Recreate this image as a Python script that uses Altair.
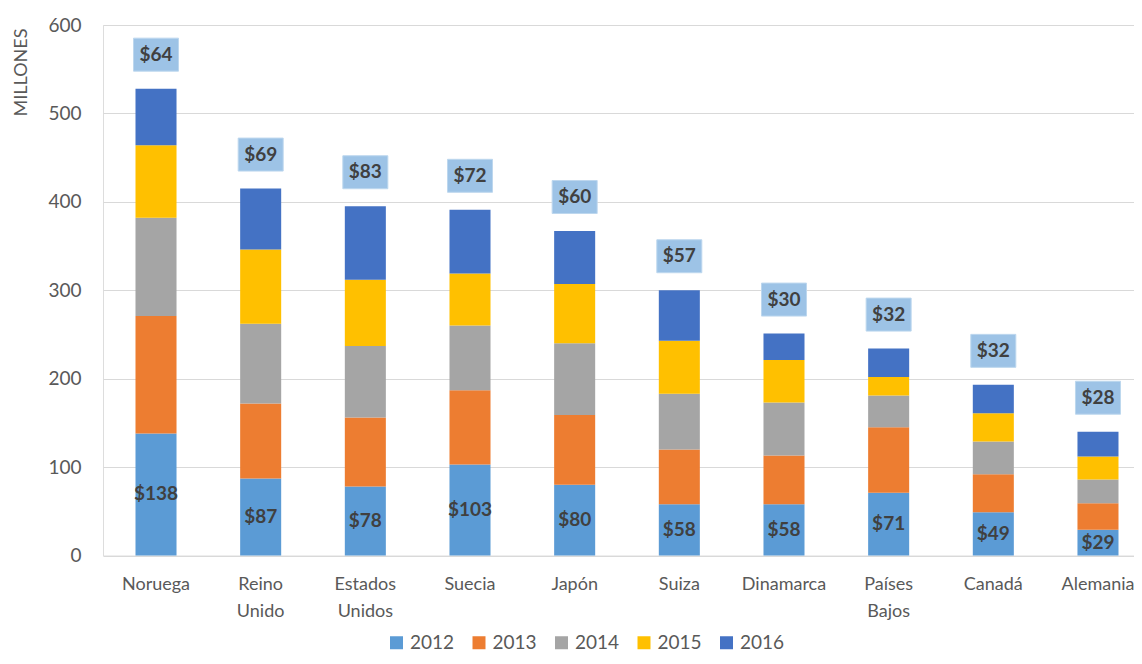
import altair as alt
import pandas as pd

paises = ["Noruega", "Reino Unido", "Estados Unidos", "Suecia", "Japón",
          "Suiza", "Dinamarca", "Países Bajos", "Canadá", "Alemania"]
anios = ["2012", "2013", "2014", "2015", "2016"]
v2012 = [138, 87, 78, 103, 80, 58, 58, 71, 49, 29]
v2013 = [133, 85, 78, 84, 79, 62, 55, 74, 43, 30]
v2014 = [111, 90, 81, 73, 81, 63, 60, 36, 37, 27]
v2015 = [82, 84, 75, 59, 67, 60, 48, 21, 32, 26]
v2016 = [64, 69, 83, 72, 60, 57, 30, 32, 32, 28]
colores = ["#5B9BD5", "#ED7D31", "#A5A5A5", "#FFC000", "#4472C4"]

series = [v2012, v2013, v2014, v2015, v2016]
rows = []
for i, p in enumerate(paises):
    for j, a in enumerate(anios):
        rows.append({"pais": p, "anio": a, "orden": j, "valor": series[j][i]})
df = pd.DataFrame(rows)

base_df = pd.DataFrame({"pais": paises, "valor": v2012,
                        "etiqueta": ["$" + str(v) for v in v2012]})
tot_df = pd.DataFrame({"pais": paises,
                       "total": [sum(s[i] for s in series) for i in range(len(paises))],
                       "etiqueta": ["$" + str(v) for v in v2016]})

FONT = "Lato"
GRAY = "#595959"
DARK = "#404040"

x_enc = alt.X("pais:N", sort=paises,
              scale=alt.Scale(paddingInner=0.608, paddingOuter=0.2293, align=0.677),
              axis=alt.Axis(title=None, labelAngle=0, labelFontSize=18, labelColor=GRAY,
                            labelPadding=20, labelLineHeight=27, labelOverlap=False,
                            labelExpr="split(datum.label, ' ')",
                            domain=False, ticks=False, labelFont=FONT))
y_scale = alt.Scale(domain=[0, 600], nice=False)

bars = alt.Chart(df).mark_bar().encode(
    x=x_enc,
    y=alt.Y("valor:Q", stack="zero", scale=y_scale,
            axis=alt.Axis(values=[0, 100, 200, 300, 400, 500, 600], title="MILLONES",
                          titleAngle=270, titleX=-82, titleY=3, titleAlign="right",
                          titleBaseline="middle", titleFontSize=18, titleFontWeight="normal",
                          titleColor=GRAY, titleFont=FONT,
                          labelFontSize=19, labelColor=GRAY, labelPadding=22, labelFont=FONT,
                          domain=False, ticks=False, gridColor="#D9D9D9", gridWidth=1)),
    color=alt.Color("anio:N", scale=alt.Scale(domain=anios, range=colores),
                    legend=alt.Legend(title=None, orient="none", direction="horizontal",
                                      legendX=284, legendY=608, symbolType="square",
                                      symbolSize=169, symbolStrokeWidth=0,
                                      labelFontSize=19, labelColor=GRAY, labelFont=FONT,
                                      columnPadding=14.5, labelOffset=4)),
    order=alt.Order("orden:Q", sort="ascending"),
)

base_text = alt.Chart(base_df).transform_calculate(mid="datum.valor / 2").mark_text(
    font=FONT, fontSize=19, fontWeight="bold", color=DARK, baseline="middle"
).encode(x=alt.X("pais:N", sort=paises), y=alt.Y("mid:Q", scale=y_scale), text="etiqueta:N")

box = alt.Chart(tot_df).mark_point(
    shape="M-1,-0.733H1V0.733H-1Z", size=2025, filled=True, fill="#9DC3E6",
    stroke="#BDD7EE", strokeWidth=1, opacity=1, yOffset=-34
).encode(x=alt.X("pais:N", sort=paises), y=alt.Y("total:Q", scale=y_scale))

top_text = alt.Chart(tot_df).mark_text(
    font=FONT, fontSize=19, fontWeight="bold", color=DARK, baseline="middle", yOffset=-34
).encode(x=alt.X("pais:N", sort=paises), y=alt.Y("total:Q", scale=y_scale), text="etiqueta:N")

chart = alt.layer(bars, base_text, box, top_text).properties(
    width=1031, height=530.5,
    padding={"left": 95, "top": 17, "right": 0, "bottom": 100.5},
    autosize=alt.AutoSizeParams(type="none"),
).configure_view(stroke=None).configure(font=FONT, background="white")

chart.save("out.html", embed_options={"renderer": "svg", "actions": False})
